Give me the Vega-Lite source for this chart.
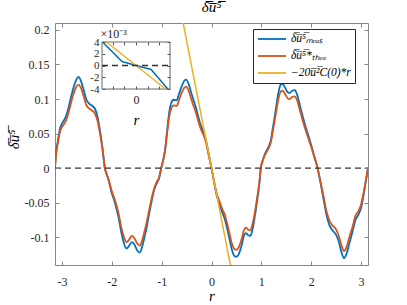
{
  "$schema": "https://vega.github.io/schema/vega-lite/v6.json",
  "width": 313,
  "height": 242,
  "autosize": {"type": "none"},
  "padding": {"left": 55, "top": 23, "right": 39, "bottom": 40},
  "background": "white",
  "config": {
    "view": {"stroke": "#868686", "strokeWidth": 1},
    "axis": {"grid": false},
    "font": "Liberation Serif"
  },
  "title": {
    "text": "\u03b4\u0305u\u0305\u2075\u0305",
    "font": "Liberation Serif",
    "fontSize": 15,
    "fontStyle": "italic",
    "fontWeight": "normal",
    "color": "#000000",
    "anchor": "middle",
    "frame": "group",
    "offset": 8
  },
  "datasets": {
    "curves": [
      {"r": -3.1416, "meas": 0, "theo": 0},
      {"r": -3.12, "meas": 0.022, "theo": 0.020},
      {"r": -3.09, "meas": 0.037, "theo": 0.034},
      {"r": -3.04, "meas": 0.058, "theo": 0.053},
      {"r": -2.99, "meas": 0.066, "theo": 0.061},
      {"r": -2.94, "meas": 0.072, "theo": 0.066},
      {"r": -2.89, "meas": 0.082, "theo": 0.075},
      {"r": -2.84, "meas": 0.097, "theo": 0.089},
      {"r": -2.78, "meas": 0.114, "theo": 0.105},
      {"r": -2.72, "meas": 0.127, "theo": 0.117},
      {"r": -2.67, "meas": 0.132, "theo": 0.121},
      {"r": -2.62, "meas": 0.126, "theo": 0.116},
      {"r": -2.57, "meas": 0.114, "theo": 0.105},
      {"r": -2.51, "meas": 0.099, "theo": 0.091},
      {"r": -2.45, "meas": 0.093, "theo": 0.086},
      {"r": -2.39, "meas": 0.090, "theo": 0.083},
      {"r": -2.34, "meas": 0.086, "theo": 0.079},
      {"r": -2.29, "meas": 0.075, "theo": 0.069},
      {"r": -2.24, "meas": 0.055, "theo": 0.051},
      {"r": -2.19, "meas": 0.030, "theo": 0.028},
      {"r": -2.14, "meas": 0, "theo": 0},
      {"r": -2.07, "meas": -0.016, "theo": -0.015},
      {"r": -2.01, "meas": -0.034, "theo": -0.031},
      {"r": -1.94, "meas": -0.050, "theo": -0.046},
      {"r": -1.87, "meas": -0.070, "theo": -0.064},
      {"r": -1.81, "meas": -0.093, "theo": -0.086},
      {"r": -1.76, "meas": -0.108, "theo": -0.099},
      {"r": -1.71, "meas": -0.116, "theo": -0.107},
      {"r": -1.66, "meas": -0.113, "theo": -0.104},
      {"r": -1.60, "meas": -0.107, "theo": -0.098},
      {"r": -1.55, "meas": -0.110, "theo": -0.101},
      {"r": -1.49, "meas": -0.119, "theo": -0.109},
      {"r": -1.44, "meas": -0.122, "theo": -0.112},
      {"r": -1.39, "meas": -0.113, "theo": -0.104},
      {"r": -1.34, "meas": -0.098, "theo": -0.090},
      {"r": -1.30, "meas": -0.085, "theo": -0.078},
      {"r": -1.25, "meas": -0.065, "theo": -0.060},
      {"r": -1.20, "meas": -0.047, "theo": -0.043},
      {"r": -1.15, "meas": -0.031, "theo": -0.029},
      {"r": -1.10, "meas": -0.022, "theo": -0.020},
      {"r": -1.05, "meas": -0.014, "theo": -0.013},
      {"r": -1.01, "meas": 0, "theo": 0},
      {"r": -0.97, "meas": 0.012, "theo": 0.011},
      {"r": -0.93, "meas": 0.028, "theo": 0.026},
      {"r": -0.89, "meas": 0.055, "theo": 0.051},
      {"r": -0.85, "meas": 0.080, "theo": 0.074},
      {"r": -0.81, "meas": 0.094, "theo": 0.086},
      {"r": -0.76, "meas": 0.099, "theo": 0.091},
      {"r": -0.70, "meas": 0.098, "theo": 0.090},
      {"r": -0.65, "meas": 0.108, "theo": 0.099},
      {"r": -0.60, "meas": 0.118, "theo": 0.109},
      {"r": -0.55, "meas": 0.126, "theo": 0.116},
      {"r": -0.51, "meas": 0.128, "theo": 0.118},
      {"r": -0.46, "meas": 0.122, "theo": 0.112},
      {"r": -0.41, "meas": 0.110, "theo": 0.101},
      {"r": -0.36, "meas": 0.098, "theo": 0.090},
      {"r": -0.31, "meas": 0.087, "theo": 0.080},
      {"r": -0.26, "meas": 0.073, "theo": 0.067},
      {"r": -0.21, "meas": 0.061, "theo": 0.056},
      {"r": -0.16, "meas": 0.052, "theo": 0.048},
      {"r": -0.11, "meas": 0.040, "theo": 0.037},
      {"r": -0.06, "meas": 0.022, "theo": 0.020},
      {"r": 0, "meas": 0, "theo": 0},
      {"r": 0.05, "meas": -0.020, "theo": -0.018},
      {"r": 0.11, "meas": -0.041, "theo": -0.038},
      {"r": 0.16, "meas": -0.052, "theo": -0.048},
      {"r": 0.21, "meas": -0.063, "theo": -0.058},
      {"r": 0.26, "meas": -0.072, "theo": -0.066},
      {"r": 0.31, "meas": -0.086, "theo": -0.079},
      {"r": 0.36, "meas": -0.102, "theo": -0.094},
      {"r": 0.41, "meas": -0.118, "theo": -0.109},
      {"r": 0.46, "meas": -0.127, "theo": -0.117},
      {"r": 0.50, "meas": -0.128, "theo": -0.118},
      {"r": 0.55, "meas": -0.124, "theo": -0.114},
      {"r": 0.60, "meas": -0.113, "theo": -0.104},
      {"r": 0.65, "meas": -0.098, "theo": -0.090},
      {"r": 0.69, "meas": -0.094, "theo": -0.086},
      {"r": 0.74, "meas": -0.097, "theo": -0.089},
      {"r": 0.78, "meas": -0.098, "theo": -0.090},
      {"r": 0.83, "meas": -0.086, "theo": -0.079},
      {"r": 0.88, "meas": -0.065, "theo": -0.060},
      {"r": 0.92, "meas": -0.045, "theo": -0.041},
      {"r": 0.96, "meas": -0.023, "theo": -0.021},
      {"r": 0.99, "meas": 0, "theo": 0},
      {"r": 1.03, "meas": 0.012, "theo": 0.011},
      {"r": 1.08, "meas": 0.022, "theo": 0.020},
      {"r": 1.14, "meas": 0.030, "theo": 0.028},
      {"r": 1.19, "meas": 0.040, "theo": 0.037},
      {"r": 1.24, "meas": 0.062, "theo": 0.057},
      {"r": 1.29, "meas": 0.085, "theo": 0.078},
      {"r": 1.34, "meas": 0.108, "theo": 0.099},
      {"r": 1.39, "meas": 0.121, "theo": 0.111},
      {"r": 1.43, "meas": 0.122, "theo": 0.112},
      {"r": 1.48, "meas": 0.116, "theo": 0.107},
      {"r": 1.53, "meas": 0.110, "theo": 0.101},
      {"r": 1.57, "meas": 0.109, "theo": 0.100},
      {"r": 1.62, "meas": 0.112, "theo": 0.103},
      {"r": 1.67, "meas": 0.113, "theo": 0.104},
      {"r": 1.72, "meas": 0.106, "theo": 0.098},
      {"r": 1.77, "meas": 0.092, "theo": 0.085},
      {"r": 1.82, "meas": 0.078, "theo": 0.072},
      {"r": 1.88, "meas": 0.062, "theo": 0.057},
      {"r": 1.94, "meas": 0.048, "theo": 0.044},
      {"r": 2.00, "meas": 0.034, "theo": 0.031},
      {"r": 2.06, "meas": 0.018, "theo": 0.017},
      {"r": 2.13, "meas": 0, "theo": 0},
      {"r": 2.19, "meas": -0.022, "theo": -0.020},
      {"r": 2.25, "meas": -0.045, "theo": -0.041},
      {"r": 2.31, "meas": -0.068, "theo": -0.063},
      {"r": 2.37, "meas": -0.083, "theo": -0.076},
      {"r": 2.43, "meas": -0.090, "theo": -0.083},
      {"r": 2.49, "meas": -0.095, "theo": -0.087},
      {"r": 2.55, "meas": -0.105, "theo": -0.097},
      {"r": 2.61, "meas": -0.122, "theo": -0.112},
      {"r": 2.66, "meas": -0.130, "theo": -0.120},
      {"r": 2.71, "meas": -0.124, "theo": -0.114},
      {"r": 2.77, "meas": -0.108, "theo": -0.099},
      {"r": 2.83, "meas": -0.092, "theo": -0.085},
      {"r": 2.89, "meas": -0.075, "theo": -0.069},
      {"r": 2.95, "meas": -0.067, "theo": -0.062},
      {"r": 3.00, "meas": -0.058, "theo": -0.053},
      {"r": 3.05, "meas": -0.040, "theo": -0.037},
      {"r": 3.10, "meas": -0.018, "theo": -0.017},
      {"r": 3.1416, "meas": 0, "theo": 0}
    ],
    "lin": [
      {"r": -0.62, "y": 0.229, "series": "lin"},
      {"r": 0.42, "y": -0.155, "series": "lin"}
    ],
    "zero": [
      {"r": -3.1416, "y": 0},
      {"r": 3.1416, "y": 0}
    ],
    "inbox": [
      {"r": -0.0124, "r2": 0.0124, "y": -0.004, "y2": 0.004}
    ],
    "inblue": [
      {"r": -0.0122, "y": 0.004},
      {"r": -0.0051, "y": 0.00068},
      {"r": 0, "y": 0},
      {"r": 0.0055, "y": -0.00068},
      {"r": 0.0116, "y": -0.004}
    ],
    "inlin": [
      {"r": -0.0108, "y": 0.004},
      {"r": 0.0108, "y": -0.004}
    ],
    "inzero": [
      {"r": -0.0124, "y": 0},
      {"r": 0.0124, "y": 0}
    ]
  },
  "resolve": {"scale": {"x": "independent", "y": "independent"}},
  "layer": [
    {
      "layer": [
        {
          "data": {"name": "curves"},
          "transform": [
            {"fold": ["meas", "theo"], "as": ["series", "y"]},
            {"filter": "datum.series == 'meas'"}
          ],
          "mark": {"type": "line", "strokeWidth": 1.8, "interpolate": "monotone", "clip": true}
        },
        {
          "data": {"name": "curves"},
          "transform": [
            {"fold": ["meas", "theo"], "as": ["series", "y"]},
            {"filter": "datum.series == 'theo'"}
          ],
          "mark": {"type": "line", "strokeWidth": 1.8, "interpolate": "monotone", "clip": true}
        },
        {
          "data": {"name": "lin"},
          "mark": {"type": "line", "strokeWidth": 1.5, "clip": true}
        }
      ],
      "encoding": {
        "x": {
          "field": "r", "type": "quantitative",
          "scale": {"domain": [-3.1416, 3.1416], "nice": false, "zero": false},
          "axis": {
            "orient": "bottom", "values": [-3, -2, -1, 0, 1, 2, 3],
            "labelExpr": "toString(datum.value)",
            "domain": false, "tickSize": -4, "tickColor": "#868686",
            "labelPadding": 15, "labelFont": "Liberation Serif", "labelFontSize": 12, "labelColor": "#262626",
            "title": "r", "titleFont": "Liberation Serif", "titleFontStyle": "italic", "titleFontWeight": "normal",
            "titleFontSize": 15, "titleColor": "#000000", "titleY": 30, "titleBaseline": "middle",
            "zindex": 1
          }
        },
        "y": {
          "field": "y", "type": "quantitative",
          "scale": {"domain": [-0.14, 0.21], "nice": false, "zero": false},
          "axis": {
            "orient": "left", "values": [-0.1, -0.05, 0, 0.05, 0.1, 0.15, 0.2],
            "labelExpr": "toString(datum.value)",
            "domain": false, "tickSize": -4, "tickColor": "#868686",
            "labelPadding": 10, "labelFont": "Liberation Serif", "labelFontSize": 12, "labelColor": "#262626",
            "title": "\u03b4\u0305u\u0305\u2075\u0305", "titleFont": "Liberation Serif", "titleFontStyle": "italic", "titleFontWeight": "normal",
            "titleFontSize": 15, "titleColor": "#000000", "titleAngle": -90, "titleX": -42, "titleY": 116,
            "titleAlign": "center", "titleBaseline": "middle",
            "zindex": 1
          }
        },
        "color": {
          "field": "series", "type": "nominal",
          "scale": {"domain": ["meas", "theo", "lin"], "range": ["#0072BD", "#D95319", "#EDB120"]},
          "legend": {
            "orient": "none", "legendX": 198, "legendY": 6, "title": null,
            "labelExpr": "datum.label == 'meas' ? '\u03b4\u0305u\u0305\u2075\u0305\u2098\u2091\u2090\u209b' : datum.label == 'theo' ? '\u03b4\u0305u\u0305\u2075\u0305*\u209c\u2095\u2091\u2092' : '\u221220u\u0305\u00b2\u0305C(0)*r'",
            "symbolType": "M-1,0L4.6,0", "symbolSize": 100, "symbolStrokeWidth": 1.8,
            "labelOffset": 22, "labelFont": "Liberation Serif", "labelFontSize": 11.5, "labelFontStyle": "italic",
            "labelColor": "#000000", "labelLimit": 200,
            "padding": 4, "rowPadding": 5, "strokeColor": "#262626", "fillColor": "white"
          }
        }
      }
    },
    {
      "data": {"name": "zero"},
      "mark": {"type": "line", "strokeDash": [6, 4], "color": "#333333", "strokeWidth": 1.3},
      "encoding": {
        "x": {
          "field": "r", "type": "quantitative",
          "scale": {"domain": [-3.1416, 3.1416], "nice": false, "zero": false},
          "axis": {"orient": "top", "values": [-3, -2, -1, 0, 1, 2, 3], "labels": false, "domain": false,
                   "tickSize": -4, "tickColor": "#868686", "title": null, "zindex": 1}
        },
        "y": {
          "field": "y", "type": "quantitative",
          "scale": {"domain": [-0.14, 0.21], "nice": false, "zero": false},
          "axis": {"orient": "right", "values": [-0.1, -0.05, 0, 0.05, 0.1, 0.15, 0.2], "labels": false, "domain": false,
                   "tickSize": -4, "tickColor": "#868686", "title": null, "zindex": 1}
        }
      }
    },
    {
      "layer": [
        {
          "data": {"name": "inbox"},
          "mark": {"type": "rect", "fill": "white", "stroke": "#555555", "strokeWidth": 0.9},
          "encoding": {"x2": {"field": "r2"}, "y2": {"field": "y2"}}
        },
        {
          "data": {"name": "inblue"},
          "mark": {"type": "line", "color": "#0072BD", "strokeWidth": 1.5}
        },
        {
          "data": {"name": "inlin"},
          "mark": {"type": "line", "color": "#EDB120", "strokeWidth": 1.5}
        }
      ],
      "encoding": {
        "x": {
          "field": "r", "type": "quantitative",
          "scale": {"domain": [-0.0124, 0.0124], "range": [47, 115], "nice": false, "zero": false},
          "axis": {
            "orient": "bottom", "offset": -176, "values": [-0.0085, -0.00425, 0, 0.00425, 0.0085],
            "labelExpr": "datum.value == 0 ? '0' : ''", "labelOverlap": false,
            "domain": false, "tickSize": -3, "tickColor": "#555555",
            "labelPadding": 8, "labelFont": "Liberation Serif", "labelFontSize": 12, "labelColor": "#262626",
            "title": "r", "titleFont": "Liberation Serif", "titleFontStyle": "italic", "titleFontWeight": "normal",
            "titleFontSize": 15, "titleColor": "#000000", "titleY": 30, "titleBaseline": "middle",
            "zindex": 2
          }
        },
        "y": {
          "field": "y", "type": "quantitative",
          "scale": {"domain": [-0.004, 0.004], "range": [66, 19], "nice": false, "zero": false},
          "axis": {
            "orient": "left", "offset": -47, "values": [-0.004, -0.002, 0, 0.002, 0.004],
            "labelExpr": "toString(round(datum.value * 1000))", "labelOverlap": false,
            "domain": false, "tickSize": -3, "tickColor": "#555555",
            "labelPadding": 6, "labelFont": "Liberation Serif", "labelFontSize": 11, "labelColor": "#262626",
            "title": "\u00d710\u207b\u00b3", "titleFont": "Liberation Serif", "titleFontWeight": "normal",
            "titleFontSize": 12, "titleColor": "#262626", "titleAngle": 0, "titleX": -2, "titleY": 10,
            "titleAlign": "left", "titleBaseline": "middle",
            "zindex": 2
          }
        }
      }
    },
    {
      "data": {"name": "inzero"},
      "mark": {"type": "line", "strokeDash": [6, 4], "color": "#333333", "strokeWidth": 1.3},
      "encoding": {
        "x": {
          "field": "r", "type": "quantitative",
          "scale": {"domain": [-0.0124, 0.0124], "range": [47, 115], "nice": false, "zero": false},
          "axis": {"orient": "top", "offset": -19, "values": [-0.0085, -0.00425, 0, 0.00425, 0.0085], "labels": false,
                   "domain": false, "tickSize": -3, "tickColor": "#555555", "title": null, "zindex": 2}
        },
        "y": {
          "field": "y", "type": "quantitative",
          "scale": {"domain": [-0.004, 0.004], "range": [66, 19], "nice": false, "zero": false},
          "axis": {"orient": "right", "offset": -198, "values": [-0.004, -0.002, 0, 0.002, 0.004], "labels": false,
                   "domain": false, "tickSize": -3, "tickColor": "#555555", "title": null, "zindex": 2}
        }
      }
    }
  ]
}
